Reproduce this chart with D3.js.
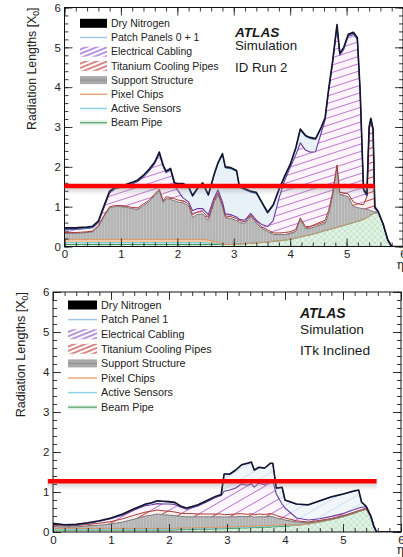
<!DOCTYPE html>
<html>
<head>
<meta charset="utf-8">
<script src="https://cdn.jsdelivr.net/npm/d3@7"></script>
<style>
  body { margin: 0; background: #fff; }
  svg { display: block; font-family: "Liberation Sans", Arial, sans-serif; }
</style>
</head>
<body>
<div id="chart"></div>
<script>
// ---------- ID Run 2 (top panel) ----------
const etaRun2 = [0, 0.1, 0.2, 0.3, 0.4, 0.5, 0.6, 0.7, 0.8, 0.9, 1.0, 1.1, 1.2, 1.3, 1.4, 1.5, 1.6, 1.68,
  1.75, 1.8, 1.88, 1.95, 2.0, 2.1, 2.2, 2.27, 2.35, 2.45, 2.55, 2.65, 2.72, 2.8, 2.85, 2.95, 3.05, 3.1,
  3.2, 3.3, 3.4, 3.5, 3.6, 3.7, 3.8, 3.9, 4.0, 4.1, 4.18, 4.27, 4.35, 4.45, 4.55, 4.62, 4.68, 4.75, 4.83,
  4.88, 4.95, 5.03, 5.12, 5.19, 5.24, 5.3, 5.36, 5.4, 5.43, 5.47, 5.5, 5.56, 5.65, 5.73, 5.8, 6.0];
const beamPipeRun2 = [
  0.05, 0.05, 0.05, 0.05, 0.05, 0.05, 0.05, 0.05, 0.05, 0.05,
  0.05, 0.05, 0.05, 0.05, 0.05, 0.05, 0.05, 0.05, 0.05, 0.05,
  0.05, 0.05, 0.05, 0.05, 0.05, 0.05, 0.05, 0.05, 0.05, 0.05,
  0.05, 0.05, 0.05, 0.05, 0.06, 0.06, 0.07, 0.08, 0.09, 0.10,
  0.11, 0.13, 0.14, 0.16, 0.18, 0.21, 0.24, 0.27, 0.29, 0.33,
  0.37, 0.40, 0.42, 0.45, 0.48, 0.50, 0.53, 0.56, 0.60, 0.63,
  0.65, 0.68, 0.72, 0.76, 0.79, 0.82, 0.84, 0.85, 0.54, 0.15,
  0, 0];
const activeSensorsRun2 = [
  0.05, 0.05, 0.05, 0.05, 0.05, 0.05, 0.05, 0.05, 0.05, 0.05,
  0.05, 0.05, 0.05, 0.05, 0.05, 0.05, 0.05, 0.05, 0.05, 0.05,
  0.05, 0.05, 0.05, 0.05, 0.05, 0.05, 0.05, 0.05, 0.04, 0.03,
  0.02, 0.01, 0, 0, 0, 0, 0, 0, 0, 0,
  0, 0, 0, 0, 0, 0, 0, 0, 0, 0,
  0, 0, 0, 0, 0, 0, 0, 0, 0, 0,
  0, 0, 0, 0, 0, 0, 0, 0, 0, 0,
  0, 0];
const pixelChipsRun2 = [
  0.08, 0.08, 0.08, 0.08, 0.08, 0.08, 0.08, 0.08, 0.08, 0.08,
  0.08, 0.08, 0.08, 0.08, 0.08, 0.08, 0.08, 0.08, 0.08, 0.08,
  0.08, 0.08, 0.08, 0.08, 0.08, 0.08, 0.08, 0.08, 0.07, 0.05,
  0.03, 0.01, 0, 0, 0, 0, 0, 0, 0, 0,
  0, 0, 0, 0, 0, 0, 0, 0, 0, 0,
  0, 0, 0, 0, 0, 0, 0, 0, 0, 0,
  0, 0, 0, 0, 0, 0, 0, 0, 0, 0,
  0, 0];
const supportRun2 = [
  0.15, 0.15, 0.15, 0.16, 0.17, 0.19, 0.32, 0.57, 0.79, 0.82,
  0.82, 0.80, 0.77, 0.75, 0.85, 0.94, 1.10, 1.22, 0.92, 1.02,
  1.00, 0.97, 0.94, 0.92, 0.84, 0.55, 0.62, 0.64, 0.49, 0.97,
  1.20, 0.93, 0.67, 0.65, 0.59, 0.54, 0.51, 0.67, 0.49, 0.35,
  0.27, 0.17, 0.16, 0.14, 0.14, 0.17, 0.44, 0.18, 0.16, 0.17,
  0.18, 0.18, 0.38, 0.80, 1.52, 0.80, 0.75, 0.69, 0.40, 0.35,
  0.31, 0.27, 0.21, 0.16, 0.11, 0.06, 0.03, 0.01, 0.01, 0.01,
  0, 0];
const titaniumRun2 = [
  0.02, 0.02, 0.02, 0.02, 0.02, 0.02, 0.03, 0.03, 0.03, 0.03,
  0.03, 0.03, 0.03, 0.04, 0.04, 0.04, 0.04, 0.04, 0.05, 0.05,
  0.05, 0.05, 0.05, 0.05, 0.05, 0.07, 0.06, 0.06, 0.07, 0.05,
  0.05, 0.05, 0.05, 0.05, 0.05, 0.05, 0.04, 0.04, 0.04, 0.04,
  0.04, 0.04, 0.04, 0.05, 0.05, 0.05, 0.04, 0.05, 0.05, 0.06,
  0.07, 0.08, 0.10, 0.08, 0.05, 0.06, 0.07, 0.07, 0.12, 0.10,
  0.10, 0.10, 0.32, 2.03, 2.27, 2.02, 0.08, 0.01, 0, 0,
  0, 0];
const cablingRun2 = [
  0.08, 0.08, 0.08, 0.08, 0.08, 0.08, 0.07, 0.20, 0.35, 0.42,
  0.45, 0.51, 0.59, 0.66, 0.68, 0.74, 0.76, 0.89, 0.85, 0.60,
  0.69, 0.35, 0.25, 0.07, 0.05, 0.10, 0.09, 0.07, 0.08, 0.07,
  0.07, 0.07, 0.05, 0.05, 0.04, 0.03, 0.04, 0.04, 0.04, 0.06,
  0.08, 0.31, 0.86, 1.30, 1.61, 1.87, 1.88, 1.92, 1.87, 1.82,
  2.23, 2.52, 2.98, 3.25, 3.47, 3.44, 3.60, 3.96, 4.21, 4.12,
  2.82, 0.35, 0.02, 0.02, 0.01, 0.01, 0.01, 0, 0, 0,
  0, 0];
const patchPanelsRun2 = [
  0.01, 0.01, 0.01, 0.01, 0.01, 0.01, 0.01, 0.01, 0.01, 0.01,
  0.01, 0.01, 0.01, 0.01, 0.01, 0.01, 0.01, 0.01, 0.01, 0.01,
  0.01, 0.02, 0.13, 0.33, 0.35, 0.35, 0.47, 0.62, 0.47, 0.55,
  0.65, 1.18, 1.15, 1.15, 1.14, 0.80, 0.76, 0.53, 0.67, 0.53,
  0.33, 0.37, 0.20, 0.08, 0.05, 0.15, 0.32, 0.34, 0.34, 0.30,
  0.11, 0.03, 0.02, 0.02, 0.02, 0.02, 0.02, 0.02, 0.02, 0.02,
  0.02, 0.02, 0.01, 0.01, 0.01, 0.01, 0.01, 0, 0, 0,
  0, 0];
const dryNitrogenRun2 = [
  0.03, 0.03, 0.03, 0.03, 0.03, 0.03, 0.03, 0.03, 0.03, 0.03,
  0.03, 0.03, 0.03, 0.03, 0.03, 0.03, 0.03, 0.03, 0.03, 0.03,
  0.03, 0.03, 0.03, 0.03, 0.03, 0.03, 0.03, 0.03, 0.03, 0.03,
  0.03, 0.03, 0.03, 0.03, 0.03, 0.03, 0.03, 0.03, 0.03, 0.03,
  0.03, 0.03, 0.03, 0.03, 0.03, 0.03, 0.03, 0.03, 0.03, 0.03,
  0.03, 0.03, 0.03, 0.03, 0.03, 0.03, 0.03, 0.03, 0.03, 0.03,
  0.03, 0.03, 0.03, 0.03, 0.03, 0.03, 0.03, 0.01, 0.01, 0.01,
  0, 0];
const legendLabelsRun2 = ["Dry Nitrogen", "Patch Panels 0 + 1", "Electrical Cabling",
  "Titanium Cooling Pipes", "Support Structure", "Pixel Chips", "Active Sensors", "Beam Pipe"];
const titleRun2 = ["ATLAS", "Simulation", "ID Run 2"];
const markerRun2 = { level: 1.52, from: 0, to: 5.5 };

// ---------- ITk Inclined (bottom panel) ----------
const etaItk = [0, 0.2, 0.4, 0.6, 0.8, 1.0, 1.2, 1.4, 1.6, 1.7, 1.8, 1.9, 2.0, 2.1, 2.2, 2.3, 2.4, 2.5,
  2.6, 2.7, 2.8, 2.9, 2.95, 3.05, 3.15, 3.25, 3.35, 3.42, 3.47, 3.55, 3.65, 3.75, 3.79, 3.85, 3.95,
  4.0, 4.2, 4.4, 4.6, 4.8, 5.0, 5.2, 5.27, 5.32, 5.4, 5.48, 5.53, 5.58, 6.0];
const beamPipeItk = [
  0.05, 0.05, 0.05, 0.05, 0.05, 0.05, 0.05, 0.05, 0.05, 0.05,
  0.05, 0.05, 0.05, 0.05, 0.06, 0.06, 0.06, 0.07, 0.07, 0.07,
  0.08, 0.08, 0.08, 0.09, 0.09, 0.10, 0.10, 0.11, 0.11, 0.11,
  0.12, 0.12, 0.13, 0.13, 0.14, 0.14, 0.17, 0.20, 0.25, 0.31,
  0.38, 0.47, 0.51, 0.53, 0.57, 0.36, 0.12, 0, 0];
const activeSensorsItk = [
  0.02, 0.02, 0.02, 0.02, 0.02, 0.02, 0.02, 0.02, 0.02, 0.02,
  0.02, 0.02, 0.02, 0.02, 0.02, 0.02, 0.02, 0.02, 0.02, 0.02,
  0.02, 0.02, 0.02, 0.02, 0.02, 0.02, 0.02, 0.02, 0.02, 0.02,
  0.02, 0.02, 0.02, 0.02, 0.02, 0.02, 0, 0, 0, 0,
  0, 0, 0, 0, 0, 0, 0, 0, 0];
const pixelChipsItk = [
  0.02, 0.02, 0.02, 0.02, 0.02, 0.02, 0.02, 0.02, 0.02, 0.02,
  0.02, 0.02, 0.02, 0.02, 0.02, 0.02, 0.02, 0.02, 0.02, 0.02,
  0.02, 0.02, 0.02, 0.02, 0.02, 0.02, 0.02, 0.02, 0.02, 0.02,
  0.02, 0.02, 0.02, 0.02, 0.02, 0.02, 0, 0, 0, 0,
  0, 0, 0, 0, 0, 0, 0, 0, 0];
const supportItk = [
  0.05, 0.03, 0.04, 0.06, 0.08, 0.11, 0.16, 0.23, 0.31, 0.33,
  0.36, 0.34, 0.33, 0.32, 0.29, 0.28, 0.28, 0.27, 0.27, 0.27,
  0.26, 0.26, 0.25, 0.25, 0.25, 0.25, 0.24, 0.24, 0.22, 0.23,
  0.22, 0.23, 0.21, 0.18, 0.14, 0.12, 0.08, 0.03, 0.02, 0.01,
  0.01, 0.01, 0.01, 0.01, 0.01, 0.01, 0.01, 0, 0];
const titaniumItk = [
  0.03, 0.03, 0.03, 0.04, 0.05, 0.06, 0.08, 0.10, 0.10, 0.10,
  0.10, 0.10, 0.10, 0.09, 0.08, 0.08, 0.08, 0.07, 0.07, 0.07,
  0.07, 0.07, 0.06, 0.06, 0.07, 0.07, 0.06, 0.07, 0.06, 0.07,
  0.06, 0.07, 0.07, 0.06, 0.05, 0.05, 0.03, 0.02, 0.02, 0.02,
  0.02, 0.02, 0.02, 0.02, 0.02, 0.01, 0.01, 0, 0];
const cablingItk = [
  0.03, 0.02, 0.02, 0.03, 0.05, 0.07, 0.09, 0.13, 0.16, 0.16,
  0.16, 0.17, 0.18, 0.19, 0.15, 0.11, 0.15, 0.20, 0.27, 0.34,
  0.41, 0.46, 0.59, 0.61, 0.65, 0.74, 0.73, 0.74, 0.69, 0.77,
  0.74, 0.84, 0.83, 0.54, 0.33, 0.25, 0.07, 0.05, 0.04, 0.05,
  0.05, 0.06, 0.06, 0.06, 0.03, 0.01, 0.01, 0, 0];
const patchPanelItk = [
  0.01, 0, 0, 0, 0, 0.01, 0.02, 0.02, 0.03, 0.04,
  0.06, 0.06, 0.05, 0.04, 0.02, 0.02, 0.02, 0.02, 0.02, 0.02,
  0.02, 0.02, 0.42, 0.39, 0.44, 0.47, 0.54, 0.54, 0.42, 0.39,
  0.41, 0.41, 0.43, 0.14, 0.41, 0.19, 0.34, 0.37, 0.44, 0.48,
  0.48, 0.46, 0.44, 0.12, 0, 0, 0, 0, 0];
const dryNitrogenItk = [
  0.01, 0.01, 0.01, 0.01, 0.01, 0.01, 0.01, 0.01, 0.01, 0.01,
  0.01, 0.01, 0.01, 0.01, 0.01, 0.01, 0.01, 0.01, 0.01, 0.01,
  0.01, 0.01, 0.01, 0.01, 0.01, 0.01, 0.01, 0.01, 0.01, 0.01,
  0.01, 0.01, 0.01, 0.01, 0.01, 0.01, 0.01, 0.01, 0.01, 0.01,
  0.01, 0.01, 0.01, 0.01, 0.01, 0.01, 0.01, 0, 0];
const legendLabelsItk = ["Dry Nitrogen", "Patch Panel 1", "Electrical Cabling",
  "Titanium Cooling Pipes", "Support Structure", "Pixel Chips", "Active Sensors", "Beam Pipe"];
const titleItk = ["ATLAS", "Simulation", "ITk Inclined"];
const markerItk = { level: 1.27, from: -0.09, to: 5.58 };

// axis ticks
const majorTicks = [0, 1, 2, 3, 4, 5, 6];
const yAxisTitle = "Radiation Lengths [X";

// stacking order, bottom to top
const layerKeys = ["beam", "sensors", "chips", "support", "titanium", "cabling", "patch", "nitrogen"];

class MaterialVis {
  constructor(_svg, _config) {
    this.svg = _svg;
    this.config = _config;
    this.initVis();
  }

  initVis() {
    let vis = this;
    let c = vis.config;

    vis.g = vis.svg.append("g").attr("class", "panel-" + c.id);

    // scales
    vis.x = d3.scaleLinear().domain([0, 6]).range([c.box.left, c.box.right]);
    vis.y = d3.scaleLinear().domain([0, 6]).range([c.box.bottom, c.box.top]);

    // patterns
    vis.defs = vis.g.append("defs");
    vis.addHatch("cab-" + c.id, "#fcf6fc", "#c07ccf", c.hatchAngle, c.hatchGap, 1);
    vis.addHatch("ti-" + c.id, "#fbefef", "#c24a4a", c.hatchAngle, c.hatchGap, 1);
    vis.addHatch("pp-" + c.id, c.patchBg, c.patchLine, c.hatchAngle, c.hatchGap, 0.8);
    vis.addHatch("legcab-" + c.id, "#ffffff", "#9d68cf", -22, 4, 1.4);
    vis.addHatch("legti-" + c.id, "#ffffff", "#c85555", -22, 4, 1.4);

    let sup = vis.defs.append("pattern")
      .attr("id", "sup-" + c.id)
      .attr("patternUnits", "userSpaceOnUse")
      .attr("width", 3).attr("height", 3);
    sup.append("rect").attr("width", 3).attr("height", 3).attr("fill", "#c2c2c2");
    sup.append("line").attr("x1", 1).attr("x2", 1).attr("y1", 0).attr("y2", 3)
      .attr("stroke", "#a9a9a9").attr("stroke-width", 1);

    let beam = vis.defs.append("pattern")
      .attr("id", "beam-" + c.id)
      .attr("patternUnits", "userSpaceOnUse")
      .attr("width", 6).attr("height", 6);
    beam.append("rect").attr("width", 6).attr("height", 6).attr("fill", "#def1e2");
    beam.append("path").attr("d", "M0,0L6,6M6,0L0,6")
      .attr("stroke", "#bddfc4").attr("stroke-width", 0.7);

    // shadow under the marker line
    let grad = vis.defs.append("linearGradient")
      .attr("id", "shadow-" + c.id)
      .attr("x1", 0).attr("x2", 0).attr("y1", 0).attr("y2", 1);
    grad.append("stop").attr("offset", 0).attr("stop-color", "#888").attr("stop-opacity", 0.35);
    grad.append("stop").attr("offset", 1).attr("stop-color", "#888").attr("stop-opacity", 0);

    vis.defs.append("clipPath").attr("id", "clip-" + c.id)
      .append("rect")
      .attr("x", c.box.left).attr("y", c.box.top)
      .attr("width", c.box.right - c.box.left)
      .attr("height", c.box.bottom - c.box.top);

    vis.fills = {
      beam: `url(#beam-${c.id})`, sensors: "#bfe6ee", chips: "#f0c9a6",
      support: `url(#sup-${c.id})`, titanium: `url(#ti-${c.id})`,
      cabling: `url(#cab-${c.id})`, patch: `url(#pp-${c.id})`, nitrogen: "#000"
    };
    vis.strokes = {
      beam: "#3f9653", sensors: "#7cc8da", chips: "#d8925f", support: "#7a7a7a",
      titanium: "#a83a3a", cabling: "#6b3aa0", patch: "#4d7fb5", nitrogen: "#14142e"
    };

    vis.plot = vis.g.append("g").attr("clip-path", `url(#clip-${c.id})`);

    vis.wrangleData();
  }

  addHatch(id, bg, color, angle, gap, width) {
    let vis = this;
    let p = vis.defs.append("pattern")
      .attr("id", id)
      .attr("patternUnits", "userSpaceOnUse")
      .attr("width", gap).attr("height", gap)
      .attr("patternTransform", `rotate(${angle})`);
    p.append("rect").attr("width", gap).attr("height", gap).attr("fill", bg);
    p.append("line")
      .attr("x1", 0).attr("x2", gap).attr("y1", gap / 2).attr("y2", gap / 2)
      .attr("stroke", color).attr("stroke-width", width);
  }

  wrangleData() {
    let vis = this;
    let c = vis.config;

    // one row per eta bin
    vis.rows = c.eta.map((e, i) => {
      let row = { eta: e };
      layerKeys.forEach((k, j) => (row[k] = c.layers[j][i]));
      return row;
    });
    vis.stacked = d3.stack().keys(layerKeys)(vis.rows);

    vis.updateVis();
  }

  updateVis() {
    let vis = this;

    let area = d3.area()
      .x((d) => vis.x(d.data.eta))
      .y0((d) => vis.y(d[0]))
      .y1((d) => vis.y(d[1]));
    let line = d3.line()
      .x((d) => vis.x(d.data.eta))
      .y((d) => vis.y(d[1]));

    vis.plot.selectAll(".layer")
      .data(vis.stacked)
      .join("path")
      .attr("class", "layer")
      .attr("fill", (d) => vis.fills[d.key])
      .attr("d", area);

    vis.plot.selectAll(".edge")
      .data(vis.stacked)
      .join("path")
      .attr("class", "edge")
      .attr("fill", "none")
      .attr("stroke", (d) => vis.strokes[d.key])
      .attr("stroke-width", (d) => (d.key === "nitrogen" ? 1.6 : d.key === "cabling" ? 1.1 : 1))
      .attr("stroke-linejoin", "round")
      .attr("d", line);

    vis.drawAxes();
    vis.drawLegend();
    vis.drawTexts();
  }

  drawAxes() {
    let vis = this;
    let c = vis.config;
    let minor = d3.range(0, 6.001, 0.2);
    let fmt = d3.format("d");

    let axes = [
      [d3.axisBottom(vis.x), `translate(0,${c.box.bottom})`, true],
      [d3.axisTop(vis.x), `translate(0,${c.box.top})`, false],
      [d3.axisLeft(vis.y), `translate(${c.box.left},0)`, true],
      [d3.axisRight(vis.y), `translate(${c.box.right},0)`, false]
    ];
    axes.forEach(([axis, tr, labelled]) => {
      // minor ticks
      vis.g.append("g")
        .attr("transform", tr)
        .call(axis.tickValues(minor).tickSize(-4).tickFormat(""))
        .call((g) => g.select(".domain").remove());
      // major ticks with labels
      vis.g.append("g")
        .attr("class", "axis")
        .attr("transform", tr)
        .call(axis.tickValues(majorTicks).tickSize(-8).tickPadding(3.5)
          .tickFormat(labelled ? fmt : ""))
        .call((g) => g.select(".domain").remove())
        .call((g) => g.selectAll("text")
          .attr("font-size", 11.5)
          .attr("font-family", "Liberation Sans, Arial, sans-serif")
          .attr("fill", "#222"));
    });
    vis.g.selectAll(".tick line").attr("stroke", "#222").attr("stroke-width", 0.9);

    // frame
    vis.g.append("rect")
      .attr("x", c.box.left).attr("y", c.box.top)
      .attr("width", c.box.right - c.box.left)
      .attr("height", c.box.bottom - c.box.top)
      .attr("fill", "none").attr("stroke", "#111").attr("stroke-width", 1);

    // y title
    let title = vis.g.append("text")
      .attr("transform", `translate(${c.yTitle.x},${c.box.top}) rotate(-90)`)
      .attr("text-anchor", "end")
      .attr("font-size", c.yTitle.size)
      .attr("fill", "#222");
    title.append("tspan").text(yAxisTitle);
    title.append("tspan").attr("font-size", c.yTitle.size * 0.7).attr("dy", "0.35em").text("0");
    title.append("tspan").attr("dy", "-0.25em").text("]");

    // eta label
    vis.g.append("text")
      .attr("x", 404).attr("y", c.box.bottom + 22)
      .attr("text-anchor", "end")
      .attr("font-family", "DejaVu Serif, serif")
      .attr("font-size", 12)
      .attr("fill", "#222")
      .text("η");

    // red marker line
    let m = c.marker;
    vis.g.append("rect")
      .attr("x", vis.x(m.from)).attr("y", vis.y(m.level) + 2)
      .attr("width", vis.x(m.to) - vis.x(m.from)).attr("height", 7)
      .attr("fill", `url(#shadow-${c.id})`);
    vis.g.append("line")
      .attr("x1", vis.x(m.from)).attr("x2", vis.x(m.to))
      .attr("y1", vis.y(m.level)).attr("y2", vis.y(m.level))
      .attr("stroke", "#ff0000").attr("stroke-width", 4.5);
  }

  drawLegend() {
    let vis = this;
    let c = vis.config;
    let L = c.legend;
    let keys = layerKeys.slice().reverse();

    let rows = vis.g.append("g").attr("class", "legend")
      .selectAll("g")
      .data(c.labels)
      .join("g")
      .attr("transform", (d, i) => `translate(${L.x},${L.y + i * L.step})`);

    rows.append("text")
      .attr("x", L.textX)
      .attr("dy", "0.36em")
      .attr("font-size", L.size)
      .attr("fill", "#222")
      .text((d) => d);

    rows.each(function (d, i) {
      let row = d3.select(this);
      let k = keys[i];
      if (k === "nitrogen") {
        row.append("rect").attr("y", -4.5).attr("width", L.w).attr("height", 9).attr("fill", "#000");
      } else if (k === "cabling" || k === "titanium") {
        row.append("rect").attr("y", -5).attr("width", L.w).attr("height", 10)
          .attr("fill", `url(#leg${k === "cabling" ? "cab" : "ti"}-${c.id})`);
      } else if (k === "support") {
        row.append("rect").attr("y", -4).attr("width", L.w).attr("height", 8)
          .attr("fill", "#a9a9a9");
        row.append("line").attr("x2", L.w).attr("stroke", "#8c8c8c").attr("stroke-width", 1);
      } else if (k === "beam") {
        row.append("rect").attr("y", -2.5).attr("width", L.w).attr("height", 5).attr("fill", "#e2f2e5");
        row.append("line").attr("x2", L.w).attr("stroke", "#5c9f6e").attr("stroke-width", 1.2);
      } else {
        let col = { patch: "#a6c6e6", chips: "#e3a77e", sensors: "#8fd3e3" }[k];
        row.append("line").attr("x2", L.w).attr("stroke", col).attr("stroke-width", 1.5);
      }
    });
  }

  drawTexts() {
    let vis = this;
    let c = vis.config;
    let t = c.title;
    let g = vis.g.append("g").attr("fill", "#1a1a1a");
    g.append("text")
      .attr("x", t.x).attr("y", t.y[0])
      .attr("font-size", t.size + 0.3)
      .attr("font-weight", "bold").attr("font-style", "italic")
      .text(c.titleLines[0]);
    g.append("text").attr("x", t.x).attr("y", t.y[1]).attr("font-size", t.size).text(c.titleLines[1]);
    g.append("text").attr("x", t.x).attr("y", t.y[2]).attr("font-size", t.size).text(c.titleLines[2]);
  }
}

let svg = d3.select("#chart").append("svg").attr("width", 403).attr("height", 557);

new MaterialVis(svg, {
  id: "run2",
  eta: etaRun2,
  layers: [beamPipeRun2, activeSensorsRun2, pixelChipsRun2, supportRun2,
    titaniumRun2, cablingRun2, patchPanelsRun2, dryNitrogenRun2],
  labels: legendLabelsRun2,
  titleLines: titleRun2,
  marker: markerRun2,
  box: { left: 64.5, right: 403, top: 7.5, bottom: 246.5 },
  hatchAngle: -18, hatchGap: 7,
  patchBg: "#e8f0f8", patchLine: "#e8f0f8",
  yTitle: { x: 36, size: 12.3 },
  legend: { x: 80, y: 23.3, step: 14.2, w: 27, textX: 31, size: 10.5 },
  title: { x: 235, y: [36.5, 50, 72], size: 13.3 }
});

new MaterialVis(svg, {
  id: "itk",
  eta: etaItk,
  layers: [beamPipeItk, activeSensorsItk, pixelChipsItk, supportItk,
    titaniumItk, cablingItk, patchPanelItk, dryNitrogenItk],
  labels: legendLabelsItk,
  titleLines: titleItk,
  marker: markerItk,
  box: { left: 53, right: 401, top: 292, bottom: 532 },
  hatchAngle: -30, hatchGap: 9,
  patchBg: "#f1f6fb", patchLine: "#c9dbec",
  yTitle: { x: 25, size: 12.6 },
  legend: { x: 68, y: 305, step: 14.6, w: 29, textX: 33, size: 10.8 },
  title: { x: 300, y: [318, 334, 355], size: 13.7 }
});
</script>
</body>
</html>
